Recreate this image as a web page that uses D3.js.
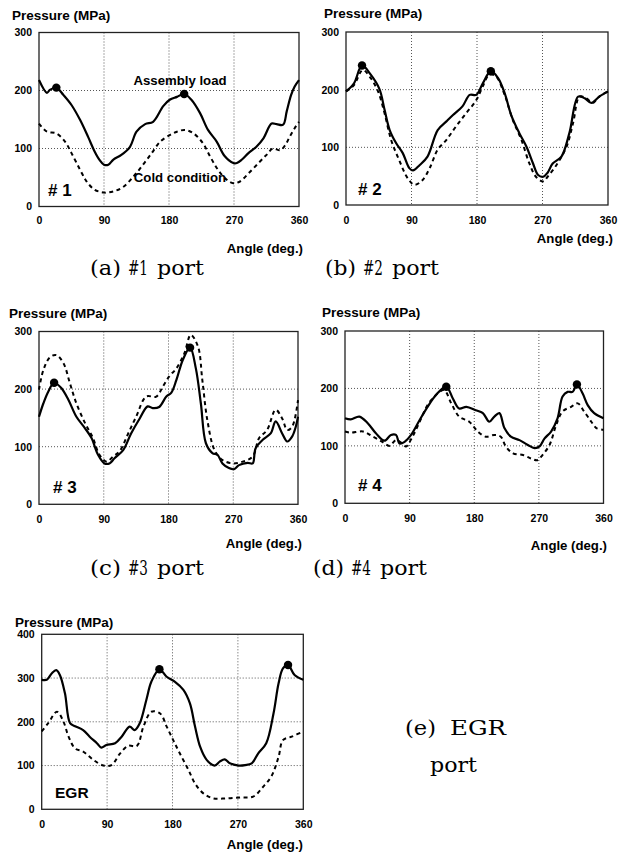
<!DOCTYPE html>
<html><head><meta charset="utf-8">
<script src="https://cdn.jsdelivr.net/npm/d3@7"></script>
<style>body{margin:0;background:#fff}svg{display:block}</style>
</head><body>
<svg id="c" width="626" height="852"></svg>
<script>
// ---------- DATA ----------
const angleTicks = [0, 90, 180, 270, 360];
const pressureTicks300 = [0, 100, 200, 300];
const pressureTicks400 = [0, 100, 200, 300, 400];

const port1Assembly = [[0,218],[11,196],[15,201],[24,205],[34,192],[45,175],[57,149],[68,120],[77,95],[84,80],[90,72],[96,72],[103,81],[114,89],[126,103],[135,129],[147,142],[158,146],[172,173],[181,184],[191,189],[201,194],[211,184],[223,161],[234,132],[246,112],[257,87],[269,75],[274,75],[281,81],[290,92],[301,103],[311,118],[322,143],[329,142],[338,141],[343,164],[349,192],[354,207],[360,218]];
const port1Cold = [[0,143],[11,129],[24,126],[36,112],[45,92],[57,63],[66,43],[77,29],[90,24],[103,26],[117,34],[131,52],[144,72],[156,92],[168,112],[181,123],[191,129],[202,132],[214,126],[227,109],[237,86],[248,63],[260,46],[269,40],[278,43],[290,57],[304,75],[315,89],[324,100],[334,97],[341,106],[347,120],[354,135],[360,146]];
const port1Peaks = [[24,205],[201,194]];

const port2Assembly = [[0,197],[11,211],[22,242],[34,226],[46,201],[53,165],[60,130],[69,107],[78,90],[87,64],[92,60],[101,69],[112,84],[126,130],[138,145],[147,156],[160,171],[170,191],[179,191],[188,211],[199,232],[209,220],[218,194],[227,156],[238,125],[248,101],[257,72],[264,52],[271,49],[277,56],[284,72],[296,84],[307,125],[319,188],[328,185],[337,177],[348,188],[360,197]];
const port2Cold = [[0,197],[11,208],[23,234],[34,220],[44,197],[53,159],[62,113],[73,78],[85,46],[94,35],[105,43],[115,64],[126,96],[138,113],[151,136],[165,159],[179,182],[188,206],[197,226],[206,223],[218,191],[229,148],[241,113],[252,72],[261,49],[271,41],[277,49],[289,69],[303,101],[312,142],[321,188],[330,185],[339,177],[348,188],[360,197]];
const port2Peaks = [[22,242],[199,232]];

const port3Assembly = [[0,152],[6,175],[13,196],[21,211],[31,202],[41,181],[52,152],[64,132],[73,115],[82,86],[91,71],[98,71],[105,80],[117,94],[128,123],[140,149],[151,170],[158,167],[167,169],[177,187],[184,194],[191,216],[200,251],[210,272],[218,236],[225,175],[232,106],[241,89],[248,86],[255,71],[264,63],[271,61],[278,68],[290,72],[297,71],[301,97],[311,112],[322,123],[329,144],[338,123],[345,109],[352,118],[357,135],[360,152]];
const port3Cold = [[0,199],[6,233],[15,255],[24,259],[34,245],[43,210],[52,175],[64,141],[75,115],[84,86],[94,74],[103,83],[112,92],[124,123],[135,152],[149,187],[163,187],[172,204],[181,222],[191,236],[202,262],[211,294],[221,274],[227,216],[234,146],[244,94],[255,77],[269,71],[283,74],[297,83],[306,115],[317,129],[329,164],[338,149],[345,129],[352,135],[360,181]];
const port3Peaks = [[21,211],[210,272]];

const port4Assembly = [[0,148],[8,146],[20,151],[32,139],[43,122],[55,109],[64,119],[71,119],[76,104],[83,107],[92,119],[104,145],[115,168],[127,189],[141,203],[150,183],[159,165],[169,168],[182,162],[192,157],[201,142],[208,151],[215,157],[222,131],[231,116],[243,110],[254,102],[264,96],[271,99],[278,113],[287,125],[296,148],[303,186],[310,194],[317,194],[323,207],[331,191],[338,171],[347,157],[360,148]];
const port4Cold = [[0,125],[8,123],[25,125],[39,116],[52,107],[62,100],[71,110],[80,104],[85,99],[94,116],[104,142],[115,171],[127,189],[138,197],[148,174],[159,151],[173,142],[185,125],[196,116],[208,119],[217,116],[224,99],[234,87],[248,84],[259,78],[268,75],[275,84],[285,102],[294,136],[303,160],[315,168],[324,174],[333,160],[343,142],[350,131],[360,128]];
const port4Peaks = [[141,203],[323,207]];

const egrAssembly = [[0,296],[7,296],[14,311],[20,318],[25,307],[32,265],[39,197],[46,190],[57,181],[66,166],[76,151],[82,141],[89,147],[101,151],[110,166],[121,189],[128,181],[135,197],[144,250],[151,292],[162,320],[172,303],[183,292],[195,273],[204,242],[211,189],[218,143],[227,113],[238,100],[245,109],[252,114],[259,105],[271,100],[280,101],[289,105],[298,128],[309,151],[319,219],[326,288],[332,322],[339,330],[348,307],[360,296]];
const egrCold = [[0,178],[9,197],[21,223],[30,200],[37,166],[46,139],[57,132],[71,113],[85,100],[96,101],[108,128],[119,145],[131,145],[140,189],[151,223],[163,219],[172,189],[181,158],[190,128],[202,90],[211,59],[222,37],[236,25],[254,25],[273,27],[291,29],[305,52],[316,75],[326,120],[332,158],[344,166],[360,178]];
const egrPeaks = [[162,320],[339,330]];

const panelTags = ["# 1", "# 2", "# 3", "# 4", "EGR"];
const captionWords = [["(a)","#1","port"],["(b)","#2","port"],["(c)","#3","port"],["(d)","#4","port"]];

// ---------- LAYOUT ----------
const panels = [
  {solid: port1Assembly, dash: port1Cold, peaks: port1Peaks, ticks: pressureTicks300, tag: panelTags[0],
   L:39, R:299, T:32.5, B:206.5, pLab:[12,19.5], aLab:[303,253], tickDy:13.5, tagPos:[48,196],
   extra:[["Assembly load",180,85],["Cold condition",180,182]]},
  {solid: port2Assembly, dash: port2Cold, peaks: port2Peaks, ticks: pressureTicks300, tag: panelTags[1],
   L:346, R:608, T:32, B:205, pLab:[324,18], aLab:[613,243], tickDy:15, tagPos:[358,195]},
  {solid: port3Assembly, dash: port3Cold, peaks: port3Peaks, ticks: pressureTicks300, tag: panelTags[2],
   L:39, R:298, T:331.5, B:504.3, pLab:[9,318], aLab:[302,548], tickDy:15.5, tagPos:[53,492.5]},
  {solid: port4Assembly, dash: port4Cold, peaks: port4Peaks, ticks: pressureTicks300, tag: panelTags[3],
   L:345, R:603.5, T:331, B:503.3, pLab:[322,316.5], aLab:[607,550], tickDy:15.5, tagPos:[358,491]},
  {solid: egrAssembly, dash: egrCold, peaks: egrPeaks, ticks: pressureTicks400, tag: panelTags[4],
   L:41.7, R:303.3, T:634.3, B:809.3, pLab:[15,626.5], aLab:[303,848.5], tickDy:15.5, tagPos:[55,798], tagSize:15.5}
];

const svg = d3.select("#c");
const sans = "'Liberation Sans', Arial, sans-serif";
const serif = "'DejaVu Serif', 'Liberation Serif', serif";

panels.forEach(p => {
  const ymax = d3.max(p.ticks);
  const x = d3.scaleLinear().domain([0, 360]).range([p.L, p.R]);
  const y = d3.scaleLinear().domain([0, ymax]).range([p.B, p.T]);
  const g = svg.append("g");

  g.selectAll(".vg").data(angleTicks.slice(1, -1)).join("line")
    .attr("x1", d => x(d)).attr("x2", d => x(d)).attr("y1", p.T).attr("y2", p.B)
    .attr("stroke", "#555").attr("stroke-width", 1).attr("stroke-dasharray", "1,2");
  g.selectAll(".hg").data(p.ticks.slice(1, -1)).join("line")
    .attr("x1", p.L).attr("x2", p.R).attr("y1", d => y(d)).attr("y2", d => y(d))
    .attr("stroke", "#555").attr("stroke-width", 1).attr("stroke-dasharray", "1,2");

  const xa = g.append("g").attr("transform", `translate(0,${p.B})`)
    .call(d3.axisBottom(x).tickValues(angleTicks).tickSize(0).tickFormat(d3.format("d")));
  xa.select(".domain").remove();
  xa.selectAll("text").attr("font-family", sans).attr("font-weight", "bold").attr("font-size", 10.5).attr("fill", "#000")
    .attr("dy", "0.35em").attr("y", p.tickDy);

  const ya = g.append("g").attr("transform", `translate(${p.L},0)`)
    .call(d3.axisLeft(y).tickValues(p.ticks).tickSize(0).tickPadding(7).tickFormat(d3.format("d")));
  ya.select(".domain").remove();
  ya.selectAll("text").attr("font-family", sans).attr("font-weight", "bold").attr("font-size", 10.5).attr("fill", "#000");

  g.append("rect").attr("x", p.L).attr("y", p.T).attr("width", p.R - p.L).attr("height", p.B - p.T)
    .attr("fill", "none").attr("stroke", "#222").attr("stroke-width", 1.3);

  const line = d3.line().x(d => x(d[0])).y(d => y(d[1])).curve(d3.curveCatmullRom.alpha(0.5));
  g.append("path").datum(p.dash).attr("d", line).attr("fill", "none")
    .attr("stroke", "#000").attr("stroke-width", 2).attr("stroke-dasharray", "4,3.5");
  g.append("path").datum(p.solid).attr("d", line).attr("fill", "none")
    .attr("stroke", "#000").attr("stroke-width", 2.2);
  g.selectAll(".pk").data(p.peaks).join("circle")
    .attr("cx", d => x(d[0])).attr("cy", d => y(d[1])).attr("r", 4.2).attr("fill", "#000");

  g.append("text").attr("x", p.pLab[0]).attr("y", p.pLab[1]).text("Pressure (MPa)")
    .attr("font-family", sans).attr("font-weight", "bold").attr("font-size", 13.5);
  g.append("text").attr("x", p.aLab[0]).attr("y", p.aLab[1]).attr("text-anchor", "end").text("Angle (deg.)")
    .attr("font-family", sans).attr("font-weight", "bold").attr("font-size", 13.2);
  g.append("text").attr("x", p.tagPos[0]).attr("y", p.tagPos[1]).text(p.tag)
    .attr("font-family", sans).attr("font-weight", "bold").attr("font-size", p.tagSize || 17);
  (p.extra || []).forEach(e => {
    g.append("text").attr("x", e[1]).attr("y", e[2]).attr("text-anchor", "middle").text(e[0])
      .attr("font-family", sans).attr("font-weight", "bold").attr("font-size", 13.2);
  });
});

// captions: each word placed and fitted to its width in the reference
const capPos = [[90,275],[325,275],[90,575],[313,575]];
const wordOff = [0, 38, 67];
const wordLen = [31, 20, 47];
function word(xp, yp, txt, len) {
  svg.append("text").attr("font-family", serif).attr("font-size", 21)
    .attr("x", xp).attr("y", yp).attr("textLength", len).attr("lengthAdjust", "spacingAndGlyphs").text(txt);
}
captionWords.forEach((words, i) => {
  words.forEach((w, j) => word(capPos[i][0] + wordOff[j], capPos[i][1], w, wordLen[j]));
});
word(405, 735, "(e)", 31);
word(450, 735, "EGR", 56);
word(430, 772, "port", 47);
</script>
</body></html>
